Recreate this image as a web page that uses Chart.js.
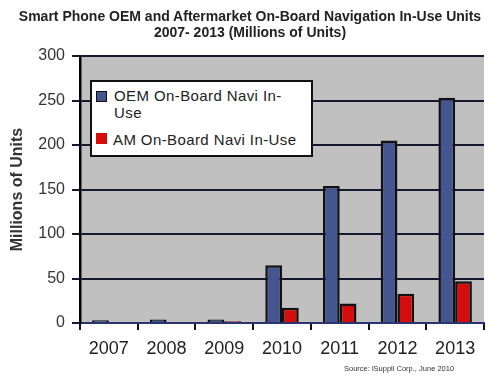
<!DOCTYPE html>
<html>
<head>
<meta charset="utf-8">
<script src="https://cdn.jsdelivr.net/npm/chart.js@4"></script>
<style>
  html, body { margin: 0; padding: 0; background: #fff; }
  #wrap { position: relative; width: 500px; height: 376px; font-family: "Liberation Sans", Arial, sans-serif; }
  #chart { position: absolute; left: 0; top: 0; }
  .title { position: absolute; left: 0; width: 500px; text-align: center; font-weight: bold; font-size: 14px; color: #222; white-space: nowrap; }
  #legend { position: absolute; left: 90px; top: 80px; width: 223px; height: 77px; box-sizing: border-box; border: 2px solid #111; background: #fff; }
  .lg { position: absolute; font-size: 15px; letter-spacing: 0.4px; color: #222; white-space: nowrap; line-height: 16px; }
  .mk { position: absolute; width: 11px; height: 11px; box-sizing: border-box; }
  #source { position: absolute; left: 344px; top: 364px; font-size: 7.5px; color: #333; white-space: nowrap; }
</style>
</head>
<body>
<div id="wrap">
  <canvas id="chart" width="500" height="376"></canvas>
  <div class="title" style="top:8px">Smart Phone OEM and Aftermarket On-Board Navigation In-Use Units</div>
  <div class="title" style="top:24px">2007- 2013 (Millions of Units)</div>
  <div id="legend"></div>
  <div id="source">Source: iSuppli Corp., June 2010</div>
</div>
<script>
const years = ['2007', '2008', '2009', '2010', '2011', '2012', '2013'];
const oemUnits = [3, 4, 4, 65, 154, 205, 253];
const amUnits = [0, 0, 2, 17, 22, 33, 47];
const seriesNames = ['OEM On-Board Navi In-Use', 'AM On-Board Navi In-Use'];
const seriesColors = ['#44558f', '#d40c0c'];
const yTicks = [0, 50, 100, 150, 200, 250, 300];

// legend drawn as html box inside the plot
const legend = document.getElementById('legend');
legend.innerHTML =
    '<div class="mk" style="left:4px;top:9px;background:' + seriesColors[0] + ';border:1px solid #111"></div>' +
    '<div class="lg" style="left:22px;top:6px">OEM On-Board Navi In-</div>' +
    '<div class="lg" style="left:22px;top:23px">Use</div>' +
    '<div class="mk" style="left:4px;top:51px;background:' + seriesColors[1] + '"></div>' +
    '<div class="lg" style="left:21px;top:50px">' + seriesNames[1] + '</div>';

const plotBg = {
    id: 'plotBg',
    beforeDraw(chart) {
        const { ctx, chartArea: a } = chart;
        ctx.save();
        ctx.fillStyle = '#c0c0c0';
        ctx.fillRect(a.left, a.top, a.right - a.left, a.bottom - a.top);
        ctx.restore();
    }
};

const ctx = document.getElementById('chart').getContext('2d');
new Chart(ctx, {
    type: 'bar',
    data: {
        labels: years,
        datasets: [{
            label: seriesNames[0],
            data: oemUnits,
            backgroundColor: seriesColors[0],
            borderColor: '#111',
            borderWidth: 2.5
        }, {
            label: seriesNames[1],
            data: amUnits,
            backgroundColor: seriesColors[1],
            borderColor: '#111',
            borderWidth: 2.5
        }]
    },
    options: {
        responsive: false,
        animation: false,
        categoryPercentage: 0.58,
        barPercentage: 1,
        layout: { padding: { left: 0, right: 16, top: 56, bottom: 0 } },
        plugins: {
            legend: { display: false },
            tooltip: { enabled: false }
        },
        scales: {
            x: {
                afterFit: s => { s.height = 53; },
                grid: { offset: true, drawOnChartArea: false, color: '#111', lineWidth: 2, tickLength: 7 },
                border: { color: '#2a3470', width: 2 },
                ticks: { color: '#222', padding: 8, font: { family: 'Liberation Sans', size: 18 } }
            },
            y: {
                min: 0,
                max: 300,
                afterFit: s => { s.width = 80; },
                afterBuildTicks: s => { s.ticks = yTicks.map(v => ({ value: v })); },
                grid: { color: '#15182e', lineWidth: 2, tickLength: 8 },
                border: { color: '#000', width: 2.5 },
                ticks: { color: '#333', padding: 7, font: { family: 'Liberation Sans', size: 16 } },
                title: {
                    display: true,
                    text: 'Millions of Units',
                    color: '#333',
                    padding: { top: 8, bottom: 0 },
                    font: { family: 'Liberation Sans', size: 16, weight: 'bold' }
                }
            }
        }
    },
    plugins: [plotBg]
});
</script>
</body>
</html>
